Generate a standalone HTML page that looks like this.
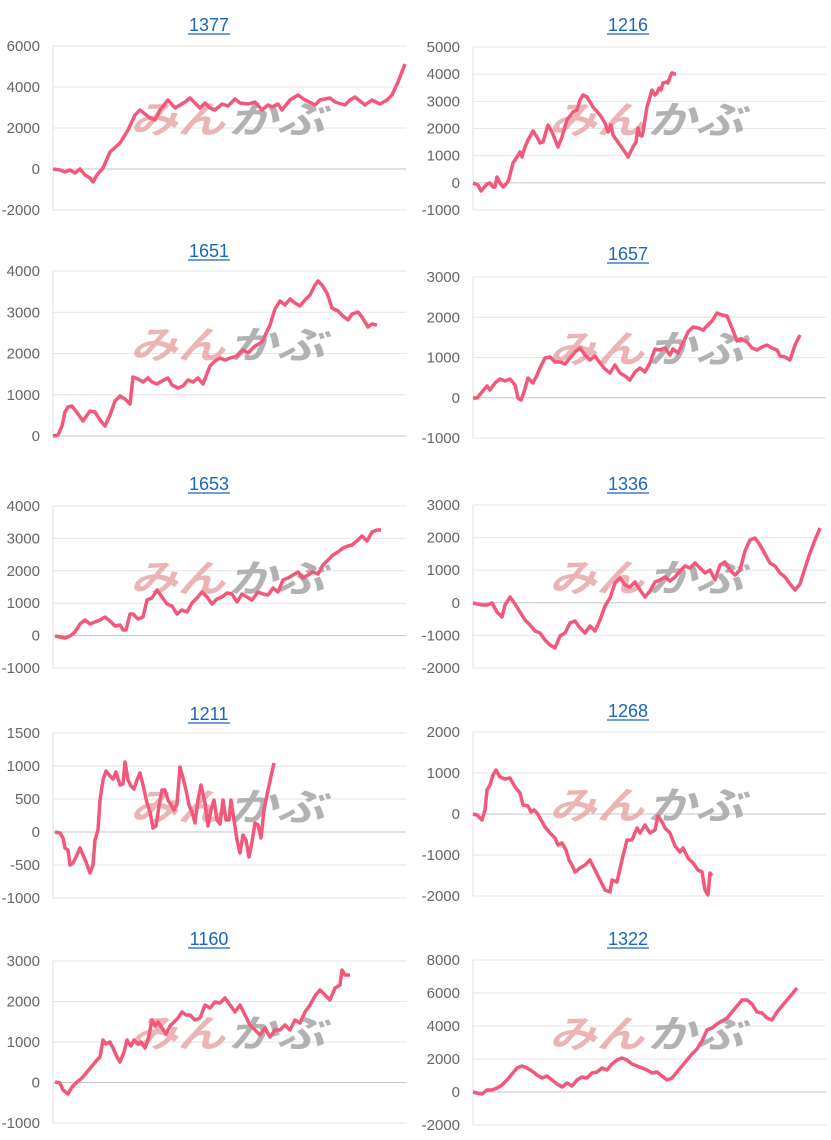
<!DOCTYPE html>
<html><head><meta charset="utf-8">
<style>
html,body{margin:0;padding:0;background:#fff;width:831px;height:1140px;overflow:hidden}
svg{display:block}
</style></head><body>
<svg id="s" width="831" height="1140" xmlns="http://www.w3.org/2000/svg" font-family="Liberation Sans, Arial, sans-serif"></svg>
<script>
const C=[
{t:"1377",L:1,top:46,bot:210,ticks:["6000","4000","2000","0","-2000"],zero:3,ty:24,
p:[[53,169],[60,170],[65,172],[70,170],[75,173],[80,169],[85,175],[90,178],[93,182],[97,175],[103,168],[110,152],[120,143],[128,130],[135,115],[140,110],[150,118],[155,120],[160,110],[168,100],[175,108],[180,105],[185,102],[190,98],[195,103],[200,108],[205,103],[210,108],[215,110],[222,104],[228,106],[235,99],[240,103],[248,104],[255,102],[262,110],[268,105],[272,107],[278,104],[282,110],[290,100],[298,95],[305,100],[315,105],[320,100],[330,98],[335,102],[345,105],[350,100],[355,97],[365,105],[372,100],[380,104],[387,100],[392,95],[398,82],[405,64]]},
{t:"1216",L:0,top:47,bot:210,ticks:["5000","4000","3000","2000","1000","0","-1000"],zero:5,ty:24,
p:[[473,183],[478,185],[481,191],[487,184],[490,183],[493,187],[495,187],[497,177],[500,183],[503,187],[507,183],[509,179],[513,163],[517,157],[520,152],[522,157],[525,147],[528,140],[533,131],[537,137],[540,143],[543,142],[548,125],[552,132],[558,147],[562,137],[567,120],[573,112],[577,110],[580,100],[583,95],[587,97],[593,107],[600,115],[605,123],[608,132],[611,125],[613,135],[620,145],[627,155],[628,157],[633,147],[636,142],[638,128],[640,135],[642,136],[643,132],[647,107],[652,90],[655,95],[657,93],[659,88],[661,90],[663,83],[667,82],[668,83],[670,77],[672,73],[674,74],[676,74]]},
{t:"1651",L:1,top:271,bot:436,ticks:["4000","3000","2000","1000","0"],zero:4,ty:250,
p:[[53,436],[58,435],[62,426],[65,412],[68,407],[72,406],[78,414],[83,421],[90,411],[95,412],[100,420],[105,426],[110,415],[115,401],[120,396],[125,399],[130,404],[133,377],[138,379],[143,382],[148,378],[152,382],[157,384],[162,381],[168,378],[172,385],[178,388],[183,386],[188,380],[193,382],[198,378],[203,384],[210,366],[215,361],[220,358],[225,360],[230,358],[237,356],[243,350],[248,353],[255,346],[262,342],[270,325],[275,309],[280,301],[285,305],[290,299],[295,303],[300,306],[305,300],[310,295],[315,285],[318,281],[322,285],[327,293],[332,308],[338,311],[343,316],[348,320],[352,314],[358,312],[362,317],[368,327],[372,324],[377,325]]},
{t:"1657",L:0,top:277,bot:438,ticks:["3000","2000","1000","0","-1000"],zero:3,ty:253,
p:[[473,398],[477,398],[482,392],[487,386],[490,390],[495,383],[500,379],[505,381],[510,379],[515,385],[518,398],[521,400],[524,392],[528,378],[533,383],[537,375],[540,368],[545,358],[550,357],[555,362],[560,362],[565,364],[570,358],[575,352],[580,348],[585,355],[590,360],[595,356],[600,363],[605,369],[610,373],[615,365],[620,373],[625,376],[630,380],[635,372],[640,368],[645,372],[650,363],[655,349],[660,350],[665,348],[670,355],[673,349],[678,353],[683,343],[688,332],[693,327],[698,328],[703,330],[708,325],[712,321],[717,313],[722,315],[727,316],[732,328],[737,341],[742,339],[747,342],[752,348],[757,350],[762,347],[767,345],[772,348],[777,350],[780,356],[785,357],[790,360],[795,345],[800,335]]},
{t:"1653",L:1,top:506,bot:668,ticks:["4000","3000","2000","1000","0","-1000"],zero:4,ty:483,
p:[[55,636],[60,637],[65,638],[70,636],[75,632],[80,624],[85,620],[90,624],[95,622],[100,620],[105,617],[110,621],[115,626],[120,625],[123,630],[126,630],[130,614],[133,614],[138,619],[143,617],[147,600],[152,598],[157,590],[162,597],[167,604],[172,606],[177,614],[182,610],[187,612],[192,603],[197,598],[202,592],[207,597],[212,604],[217,599],[222,597],[227,593],[232,594],[237,602],[242,594],[247,597],[252,600],[258,592],[263,594],[268,595],[273,588],[278,592],[283,580],[288,578],[293,575],[298,572],[303,578],[308,575],[313,572],[318,574],[323,565],[328,560],[333,555],[338,552],[343,548],[348,546],[352,545],[358,540],[362,536],[367,541],[372,532],[377,530],[381,530]]},
{t:"1336",L:0,top:505,bot:668,ticks:["3000","2000","1000","0","-1000","-2000"],zero:3,ty:483,
p:[[473,603],[477,604],[482,605],[487,605],[492,603],[497,612],[502,617],[505,605],[510,597],[515,604],[520,612],[525,620],[530,625],[535,631],[540,633],[545,640],[550,645],[555,648],[560,636],[565,633],[570,623],[575,621],[580,628],[585,633],[590,626],[595,631],[600,620],[605,606],[610,598],[615,583],[620,578],[625,585],[630,587],[635,582],[640,590],[645,597],[650,591],[655,582],[660,580],[665,577],[670,581],[675,577],[680,571],[685,566],[690,568],[695,563],[700,568],[705,573],[710,570],[715,580],[720,565],[725,562],[730,570],[735,575],[740,570],[745,551],[750,540],[755,538],[760,545],[765,554],[770,563],[775,566],[780,573],[785,577],[790,584],[795,590],[800,584],[805,568],[810,553],[815,540],[820,528]]},
{t:"1211",L:1,top:733,bot:898,ticks:["1500","1000","500","0","-500","-1000"],zero:3,ty:713,
p:[[55,832],[60,833],[63,838],[65,848],[68,850],[70,865],[73,863],[76,857],[80,848],[83,855],[86,862],[90,873],[93,865],[95,840],[98,830],[100,800],[103,780],[106,771],[110,776],[113,779],[116,772],[120,785],[123,784],[125,762],[128,780],[131,786],[134,789],[137,780],[140,773],[143,785],[147,803],[150,812],[153,828],[156,826],[159,806],[162,790],[165,790],[168,800],[171,805],[174,810],[177,804],[180,767],[183,778],[186,790],[189,805],[192,812],[195,823],[198,800],[201,785],[205,803],[208,826],[211,810],[214,800],[217,820],[220,824],[223,800],[226,820],[229,820],[231,800],[234,820],[237,840],[240,853],[243,835],[246,840],[249,857],[252,842],[255,823],[258,825],[261,838],[264,810],[268,790],[274,763]]},
{t:"1268",L:0,top:732,bot:896,ticks:["2000","1000","0","-1000","-2000"],zero:2,ty:710,
p:[[473,814],[477,815],[482,820],[485,810],[487,790],[490,785],[493,775],[496,770],[500,777],[505,779],[510,778],[515,787],[520,793],[523,805],[528,806],[531,812],[534,810],[537,813],[540,818],[545,827],[550,833],[555,838],[558,845],[562,843],[566,850],[569,860],[572,865],[575,872],[580,868],[585,865],[590,860],[595,870],[600,880],[605,890],[610,892],[612,880],[617,882],[622,860],[627,840],[632,840],[637,828],[640,833],[645,825],[650,833],[655,830],[658,816],[662,822],[665,828],[670,833],[675,846],[680,852],[683,848],[688,858],[693,863],[698,870],[702,872],[705,890],[708,895],[710,873],[712,876]]},
{t:"1160",L:1,top:961,bot:1123,ticks:["3000","2000","1000","0","-1000"],zero:3,ty:938,
p:[[55,1082],[60,1083],[63,1090],[68,1094],[72,1087],[77,1082],[82,1078],[87,1072],[92,1066],[97,1060],[100,1057],[103,1040],[106,1044],[110,1042],[113,1048],[117,1057],[120,1062],[124,1052],[127,1040],[131,1046],[134,1040],[138,1044],[141,1042],[145,1048],[148,1040],[152,1020],[155,1026],[158,1022],[162,1028],[166,1034],[170,1026],[174,1022],[178,1018],[182,1012],[186,1015],[190,1015],[195,1020],[200,1018],[205,1005],[210,1008],[215,1002],[220,1003],[225,998],[230,1005],[235,1012],[240,1005],[245,1015],[250,1025],[255,1030],[260,1035],[265,1028],[270,1037],[275,1030],[280,1030],[285,1025],[290,1030],[295,1020],[300,1023],[305,1012],[310,1005],[315,996],[320,990],[325,995],[330,1000],[335,988],[340,985],[342,970],[345,975],[350,975]]},
{t:"1322",L:0,top:960,bot:1125,ticks:["8000","6000","4000","2000","0","-2000"],zero:4,ty:938,
p:[[473,1092],[477,1093],[482,1094],[487,1090],[492,1090],[497,1088],[502,1085],[507,1080],[512,1074],[517,1068],[522,1066],[527,1068],[532,1071],[537,1075],[542,1078],[547,1076],[552,1080],[557,1084],[562,1087],[567,1083],[572,1086],[577,1080],[582,1077],[587,1078],[592,1073],[597,1072],[602,1068],[607,1070],[612,1064],[617,1060],[622,1058],[627,1060],[632,1064],[637,1066],[642,1068],[647,1070],[652,1073],[657,1072],[662,1076],[667,1080],[672,1078],[677,1072],[682,1066],[687,1060],[692,1054],[697,1049],[702,1041],[707,1030],[712,1028],[717,1024],[722,1021],[727,1018],[732,1012],[737,1006],[742,1000],[747,1000],[752,1004],[757,1012],[762,1013],[767,1018],[772,1020],[777,1012],[782,1006],[787,1000],[792,994],[797,988]]}
];
let h="";
for(const c of C){
 const x0=c.L?53:473, x1=c.L?406:826, lx=c.L?40:460, cx=c.L?209:628;
 const n=c.ticks.length, step=(c.bot-c.top)/(n-1);
 h+=`<line x1="${x0}" y1="${c.top}" x2="${x0}" y2="${c.bot}" stroke="#e0e0e0" stroke-width="1"/>`;
 for(let i=0;i<n;i++){const y=c.top+i*step;
  h+=`<line x1="${x0}" y1="${y}" x2="${x1}" y2="${y}" stroke="${i==c.zero?'#c4c4c4':'#e6e6e6'}" stroke-width="1"/>`;
  h+=`<text x="${lx}" y="${y+5}" text-anchor="end" font-size="15" fill="#666">${c.ticks[i]}</text>`;}
 const my=(c.top+c.bot)/2;
 h+=`<g font-style="italic" font-weight="bold" font-size="38" font-family="Noto Sans CJK JP, sans-serif"><text x="${cx-79}" y="${my+5}" fill="#e8a3a3" opacity="0.8" textLength="95" lengthAdjust="spacingAndGlyphs">みん</text><text x="${cx+19}" y="${my+5}" fill="#aaa" opacity="0.9" textLength="97" lengthAdjust="spacingAndGlyphs">かぶ</text></g>`;
 h+=`<text x="${cx}" y="${c.ty+7}" text-anchor="middle" font-size="18" fill="#1a66c0">${c.t}</text>`;
 h+=`<line x1="${cx-21}" y1="${c.ty+10}" x2="${cx+21}" y2="${c.ty+10}" stroke="#1a66c0" stroke-width="1.2"/>`;
 h+=`<polyline fill="none" stroke="#f2587a" stroke-width="3.5" stroke-linejoin="round" points="${c.p.map(q=>q.join(',')).join(' ')}"/>`;
}
document.getElementById('s').innerHTML=h;
</script>
</body></html>
